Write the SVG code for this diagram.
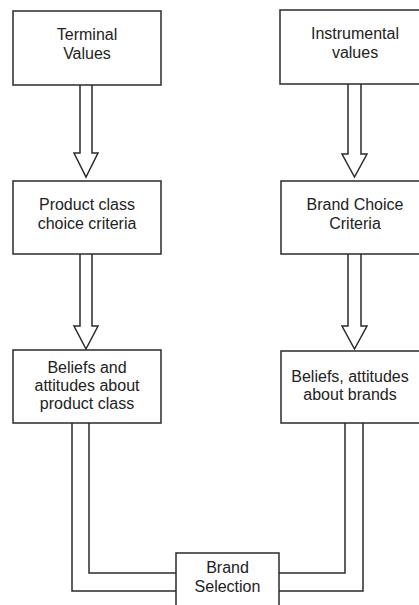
<svg xmlns="http://www.w3.org/2000/svg" width="419" height="605" viewBox="0 0 419 605">
<style>
.box{fill:#fff;stroke:#2b2b2b;stroke-width:1.5}
.arr{fill:#fff;stroke:#2b2b2b;stroke-width:1.5;stroke-linejoin:miter}
.ln{fill:none;stroke:#2b2b2b;stroke-width:1.5}
text{font-family:"Liberation Sans",Arial,sans-serif;font-size:16px;fill:#222;text-anchor:middle}
</style>
<rect width="419" height="605" fill="#fff"/>
<g id="connectors">
<path class="arr" d="M80,85 V153 H74 L86,177 L98,153 H92 V85"/>
<path class="arr" d="M348,84 V154 H342 L354.5,177 L367,154 H361 V84"/>
<path class="arr" d="M80,254 V326 H74 L86,349 L98,326 H92 V254"/>
<path class="arr" d="M348,254 V326 H342 L354.5,349 L367,326 H361 V254"/>
<path class="ln" d="M72,423 V591 H176"/>
<path class="ln" d="M89,423 V573 H176"/>
<path class="ln" d="M345,423 V573 H279"/>
<path class="ln" d="M363,423 V591 H279"/>
</g>
<g id="terminal">
<rect class="box" x="13" y="11" width="148" height="74"/>
<text x="87" y="40">Terminal</text>
<text x="87" y="59">Values</text>
</g>
<g id="instrumental">
<rect class="box" x="280" y="10" width="150" height="74"/>
<text x="355" y="39">Instrumental</text>
<text x="355" y="58">values</text>
</g>
<g id="product-class">
<rect class="box" x="13" y="181" width="148" height="73"/>
<text x="87" y="210">Product class</text>
<text x="87" y="229">choice criteria</text>
</g>
<g id="brand-choice">
<rect class="box" x="281" y="181" width="149" height="73"/>
<text x="355" y="210">Brand Choice</text>
<text x="355" y="229">Criteria</text>
</g>
<g id="beliefs-product">
<rect class="box" x="13" y="350" width="148" height="73"/>
<text x="87" y="373">Beliefs and</text>
<text x="87" y="391">attitudes about</text>
<text x="87" y="409">product class</text>
</g>
<g id="beliefs-brands">
<rect class="box" x="281" y="351" width="149" height="72"/>
<text x="350" y="382">Beliefs, attitudes</text>
<text x="350" y="400">about brands</text>
</g>
<g id="brand-selection">
<rect class="box" x="176" y="553" width="103" height="60"/>
<text x="227.5" y="573">Brand</text>
<text x="227.5" y="592">Selection</text>
</g>
</svg>
